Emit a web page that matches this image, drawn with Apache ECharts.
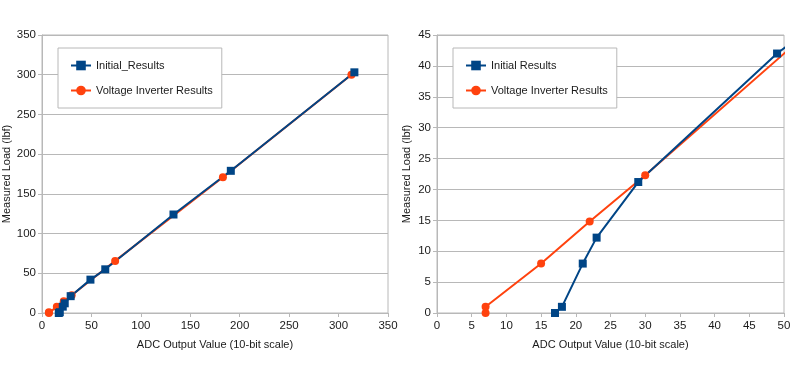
<!DOCTYPE html>
<html><head><meta charset="utf-8">
<script src="https://cdn.jsdelivr.net/npm/echarts@6/dist/echarts.min.js"></script>
<style>html,body{margin:0;padding:0;background:#fff}#c{width:800px;height:365px}</style>
</head><body><div id="c"></div>
<script>
var initX = [17, 18, 21, 23, 29, 49, 64, 133, 191, 316];
var initY = [0, 1, 8, 12.2, 21.2, 42, 55, 124, 179, 303];
var voltX = [7, 7, 15, 22, 30, 74, 183, 313];
var voltY = [0, 1, 8, 14.8, 22.3, 65.6, 171, 300];
var leftTicks = {min: 0, max: 350, interval: 50};
var rightXTicks = {min: 0, max: 50, interval: 5};
var rightYTicks = {min: 0, max: 45, interval: 5};
var xTitle = 'ADC Output Value (10-bit scale)';
var yTitle = 'Measured Load (lbf)';
var leftNames = ['Initial_Results', 'Voltage Inverter Results'];
var rightNames = ['Initial Results', 'Voltage Inverter Results'];

function pairs(xs, ys) { return xs.map(function (x, i) { return [x, ys[i]]; }); }

var FONT = 'Liberation Sans';
var FS = 11.5;
var gridCol = '#b8b8b8';
var txt = '#1a1a1a';
function xAx(idx, t) {
  return {
    type: 'value', gridIndex: idx, min: t.min, max: t.max, interval: t.interval,
    name: xTitle, nameLocation: 'middle', nameGap: 26,
    nameTextStyle: {fontFamily: FONT, fontSize: 11, color: txt},
    axisLine: {show: true, onZero: false, lineStyle: {color: gridCol}},
    axisTick: {show: true, length: 4, lineStyle: {color: gridCol}},
    axisLabel: {fontFamily: FONT, fontSize: FS, color: txt, margin: 7},
    splitLine: {show: false}
  };
}
function yAx(idx, t) {
  return {
    type: 'value', gridIndex: idx, min: t.min, max: t.max, interval: t.interval,
    name: yTitle, nameLocation: 'middle', nameGap: 25,
    nameTextStyle: {fontFamily: FONT, fontSize: 11, color: txt},
    axisLine: {show: true, onZero: false, lineStyle: {color: gridCol}},
    axisTick: {show: true, length: 4, lineStyle: {color: gridCol}},
    axisLabel: {fontFamily: FONT, fontSize: FS, color: txt, margin: 6},
    splitLine: {show: true, lineStyle: {color: gridCol, width: 1}}
  };
}
function legend(left, names) {
  return {
    left: left, top: 48, orient: 'vertical', data: names,
    backgroundColor: '#fff', borderColor: '#b8b8b8', borderWidth: 1,
    padding: [12, 9, 12, 12], itemWidth: 20, itemHeight: 12, itemGap: 14,
    textStyle: {fontFamily: FONT, fontSize: 11, color: txt}
  };
}
var BLUE = '#004586', ORANGE = '#ff420e';
function ser(name, data, idx, color, sym) {
  return {
    name: name, type: 'line', xAxisIndex: idx, yAxisIndex: idx, data: data,
    symbol: sym, symbolSize: 8, showSymbol: true,
    clip: true, animation: false,
    lineStyle: {color: color, width: 2}, itemStyle: {color: color}
  };
}
var chart = echarts.init(document.getElementById('c'), null, {renderer: 'canvas'});
chart.setOption({
  animation: false,
  grid: [
    {left: 42, top: 35, width: 346, height: 278, show: true, borderColor: gridCol, borderWidth: 1},
    {left: 437, top: 35, width: 347, height: 278, show: true, borderColor: gridCol, borderWidth: 1}
  ],
  xAxis: [xAx(0, leftTicks), xAx(1, rightXTicks)],
  yAxis: [yAx(0, leftTicks), yAx(1, rightYTicks)],
  legend: [legend(58, leftNames), legend(453, rightNames)],
  series: [
    ser(leftNames[1], pairs(voltX, voltY), 0, ORANGE, 'circle'),
    ser(leftNames[0], pairs(initX, initY), 0, BLUE, 'rect'),
    ser(rightNames[1], pairs(voltX, voltY), 1, ORANGE, 'circle'),
    ser(rightNames[0], pairs(initX, initY), 1, BLUE, 'rect')
  ]
});
</script></body></html>
